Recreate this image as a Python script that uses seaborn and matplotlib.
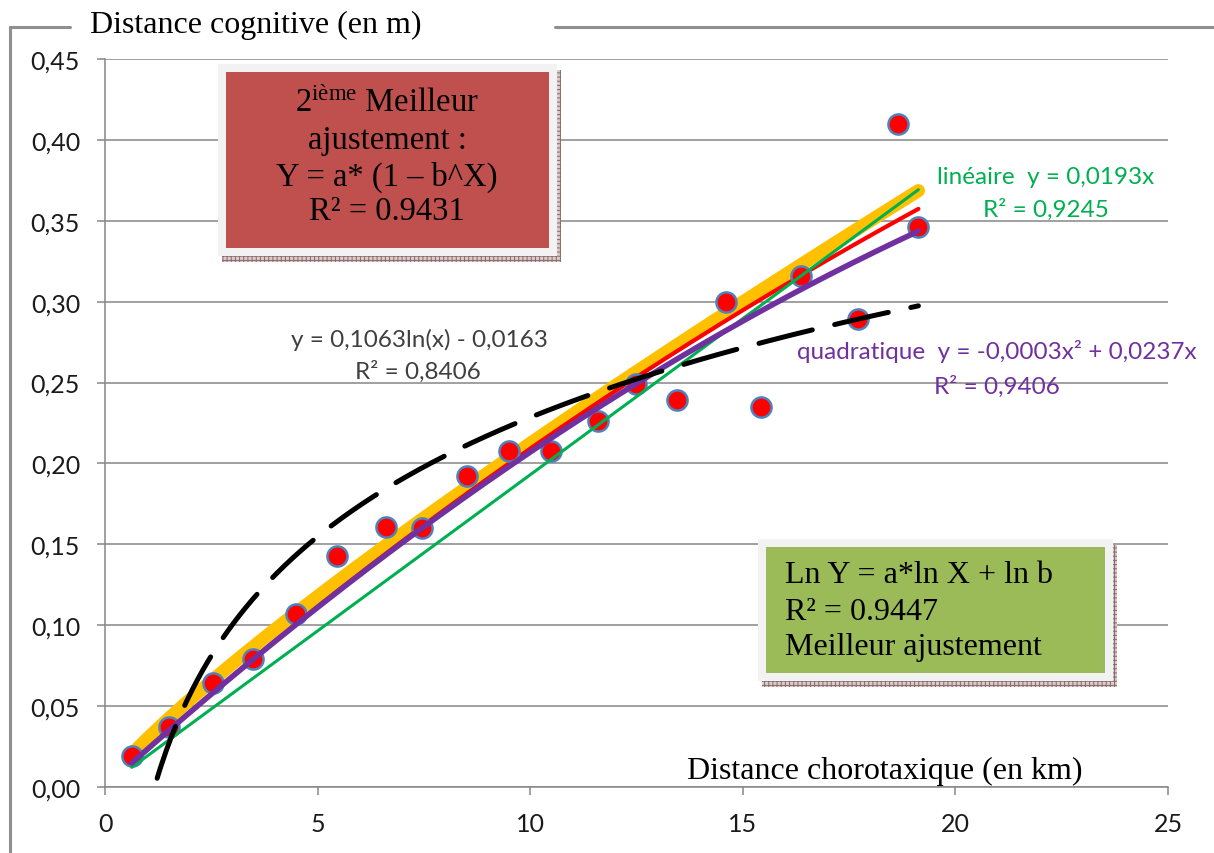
import numpy as np
import pandas as pd
import matplotlib
matplotlib.use("Agg")
import matplotlib.pyplot as plt
import seaborn as sns
from matplotlib.patches import Rectangle
from matplotlib.lines import Line2D

# ---------------- data ----------------
dist_choro = [0.63, 1.50, 2.54, 3.47, 4.50, 5.45, 6.62, 7.46, 8.52, 9.51,
              10.49, 11.60, 12.49, 13.45, 14.60, 15.42, 16.36, 17.72, 18.64, 19.13]
dist_cogn = [0.019, 0.037, 0.064, 0.079, 0.107, 0.143, 0.161, 0.160, 0.192, 0.208,
             0.208, 0.226, 0.249, 0.239, 0.300, 0.235, 0.316, 0.289, 0.410, 0.346]

x_ticks = [0, 5, 10, 15, 20, 25]
x_tick_labels = ["0", "5", "10", "15", "20", "25"]
y_ticks = [0.00, 0.05, 0.10, 0.15, 0.20, 0.25, 0.30, 0.35, 0.40, 0.45]
y_tick_labels = ["0,00", "0,05", "0,10", "0,15", "0,20", "0,25", "0,30", "0,35", "0,40", "0,45"]

# trend-line coefficients
lin_slope = 0.0193                      # linéaire y = 0,0193x
quad_a2, quad_a1 = -0.0003, 0.0237      # quadratique
log_a, log_b = 0.1063, -0.0163          # y = 0,1063ln(x) - 0,0163
power_a, power_b = 0.85, 0.030          # Ln Y = a*ln X + ln b  (best fit)
expo_a, expo_b = 0.90, 0.9739           # Y = a*(1 - b^X)       (2nd best)

# ---------------- figure ----------------
sns.set_theme(style="white")
plt.rcParams['font.family'] = ['Lato', 'DejaVu Sans']
plt.rcParams['mathtext.fontset'] = 'custom'
plt.rcParams['mathtext.rm'] = 'Liberation Serif'
plt.rcParams['mathtext.it'] = 'Liberation Serif:italic'
plt.rcParams['hatch.linewidth'] = 0.7

W, H = 1214, 854
fig = plt.figure(figsize=(W / 100, H / 100), dpi=100)
fig.patch.set_facecolor('white')


def fx(px):
    return px / W


def fy(py):
    return 1 - py / H


ax = fig.add_axes([fx(105), fy(788), fx(1168) - fx(105), fy(60) - fy(788)])
ax.set_facecolor('white')

pts = pd.DataFrame({"x": dist_choro, "y": dist_cogn})
xs = np.linspace(min(dist_choro), max(dist_choro), 300)
fits = pd.DataFrame({
    "x": xs,
    "power": power_b * xs ** power_a,
    "expo": expo_a * (1 - expo_b ** xs),
    "lin": lin_slope * xs,
    "quad": quad_a2 * xs ** 2 + quad_a1 * xs,
    "log": log_a * np.log(xs) + log_b,
})

sns.lineplot(data=fits, x="x", y="power", ax=ax, color="#FFC000", lw=9.5,
             solid_capstyle='round', zorder=2, estimator=None, sort=False)
sns.lineplot(data=fits, x="x", y="expo", ax=ax, color="#FF0000", lw=3.0,
             zorder=3, estimator=None, sort=False)
sns.scatterplot(data=pts, x="x", y="y", ax=ax, s=210, color="#FF0000",
                edgecolor="#4F81BD", linewidth=1.8, zorder=4)
sns.lineplot(data=fits, x="x", y="lin", ax=ax, color="#00B050", lw=2.2,
             zorder=5, estimator=None, sort=False)
sns.lineplot(data=fits, x="x", y="quad", ax=ax, color="#7030A0", lw=4.0,
             zorder=6, estimator=None, sort=False)
sns.lineplot(data=fits, x="x", y="log", ax=ax, color="#000000", lw=3.6,
             linestyle=(0, (11.0, 4.6)), dash_capstyle='round',
             zorder=7, estimator=None, sort=False)

ax.set_xlim(0, 25)
ax.set_ylim(0, 0.45)
ax.set_xticks(x_ticks)
ax.set_xticklabels(x_tick_labels)
ax.set_yticks(y_ticks)
ax.set_yticklabels(y_tick_labels)
ax.set_xlabel("")
ax.set_ylabel("")
ax.grid(axis='y', color='#868686', lw=1.1)
ax.grid(axis='x', visible=False)
ax.set_axisbelow(True)
for s in ['top', 'right']:
    ax.spines[s].set_visible(False)
for s in ['left', 'bottom']:
    ax.spines[s].set_color('#868686')
    ax.spines[s].set_linewidth(1.1)
ax.tick_params(axis='both', direction='out', length=6, width=1.1, color='#868686',
               labelsize=18, labelcolor='#1a1a1a', pad=12, left=True, bottom=True)

# ---------------- outer frame ----------------
frame_kw = dict(color='#8f8f8f', lw=2.2, transform=fig.transFigure)
fig.add_artist(Line2D([fx(10), fx(10)], [fy(28), fy(854)], **frame_kw))
fig.add_artist(Line2D([fx(10), fx(70)], [fy(28), fy(28)], **frame_kw))
fig.add_artist(Line2D([fx(555), fx(1214)], [fy(28), fy(28)], **frame_kw))

serif = 'Liberation Serif'
fig.text(fx(90), fy(25), "Distance cognitive (en m)", family=serif, fontsize=23,
         ha='left', va='center', color='black')
fig.text(fx(885), fy(771), "Distance chorotaxique (en km)", family=serif, fontsize=23,
         ha='center', va='center', color='black')


def box(x0, y0, x1, y1, color, zorder=10):
    # shadow
    fig.add_artist(Rectangle((fx(x0 + 4), fy(y1 + 6)), fx(x1 + 4) - fx(x0 + 4),
                             fy(y0 + 6) - fy(y1 + 6), transform=fig.transFigure,
                             facecolor='#d8cccc', edgecolor='#8c6a6a', hatch='++++',
                             lw=0, zorder=zorder))
    # light border
    fig.add_artist(Rectangle((fx(x0), fy(y1)), fx(x1) - fx(x0), fy(y0) - fy(y1),
                             transform=fig.transFigure, facecolor='#F2F2F2',
                             edgecolor='none', zorder=zorder + 1))
    # fill
    fig.add_artist(Rectangle((fx(x0 + 8), fy(y1 - 8)), fx(x1 - 8) - fx(x0 + 8),
                             fy(y0 + 8) - fy(y1 - 8), transform=fig.transFigure,
                             facecolor=color, edgecolor='none', zorder=zorder + 2))


box(218, 65, 557, 257, '#C0504D')
box(758, 540, 1113, 682, '#9BBB59')

red_lines = [(103, r"2$^{\mathrm{ième}}$ Meilleur"), (141, "ajustement :"),
             (177, "Y = a* (1 – b^X)"), (212, "R² = 0.9431")]
for yy, t in red_lines:
    fig.text(fx(387), fy(yy), t, family=serif, fontsize=23.5, ha='center',
             va='center', color='black', zorder=20)

green_lines = [(576, "Ln Y = a*ln X + ln b"), (612, "R² = 0.9447"),
               (648, "Meilleur ajustement")]
for yy, t in green_lines:
    fig.text(fx(785), fy(yy), t, family=serif, fontsize=23, ha='left',
             va='center', color='black', zorder=20)

# trend-line labels
ann = 17.5
fig.text(fx(419), fy(340), "y = 0,1063ln(x) - 0,0163", fontsize=ann, color='#404040',
         ha='center', va='center')
fig.text(fx(418), fy(372), "R² = 0,8406", fontsize=ann, color='#404040',
         ha='center', va='center')
fig.text(fx(1046), fy(177), "linéaire  y = 0,0193x", fontsize=ann, color='#00B050',
         ha='center', va='center')
fig.text(fx(1046), fy(210), "R² = 0,9245", fontsize=ann, color='#00B050',
         ha='center', va='center')
fig.text(fx(997), fy(352), "quadratique  y = -0,0003x² + 0,0237x", fontsize=ann,
         color='#7030A0', ha='center', va='center')
fig.text(fx(997), fy(387), "R² = 0,9406", fontsize=ann, color='#7030A0',
         ha='center', va='center')

fig.savefig("out.png", dpi=100, facecolor='white')
